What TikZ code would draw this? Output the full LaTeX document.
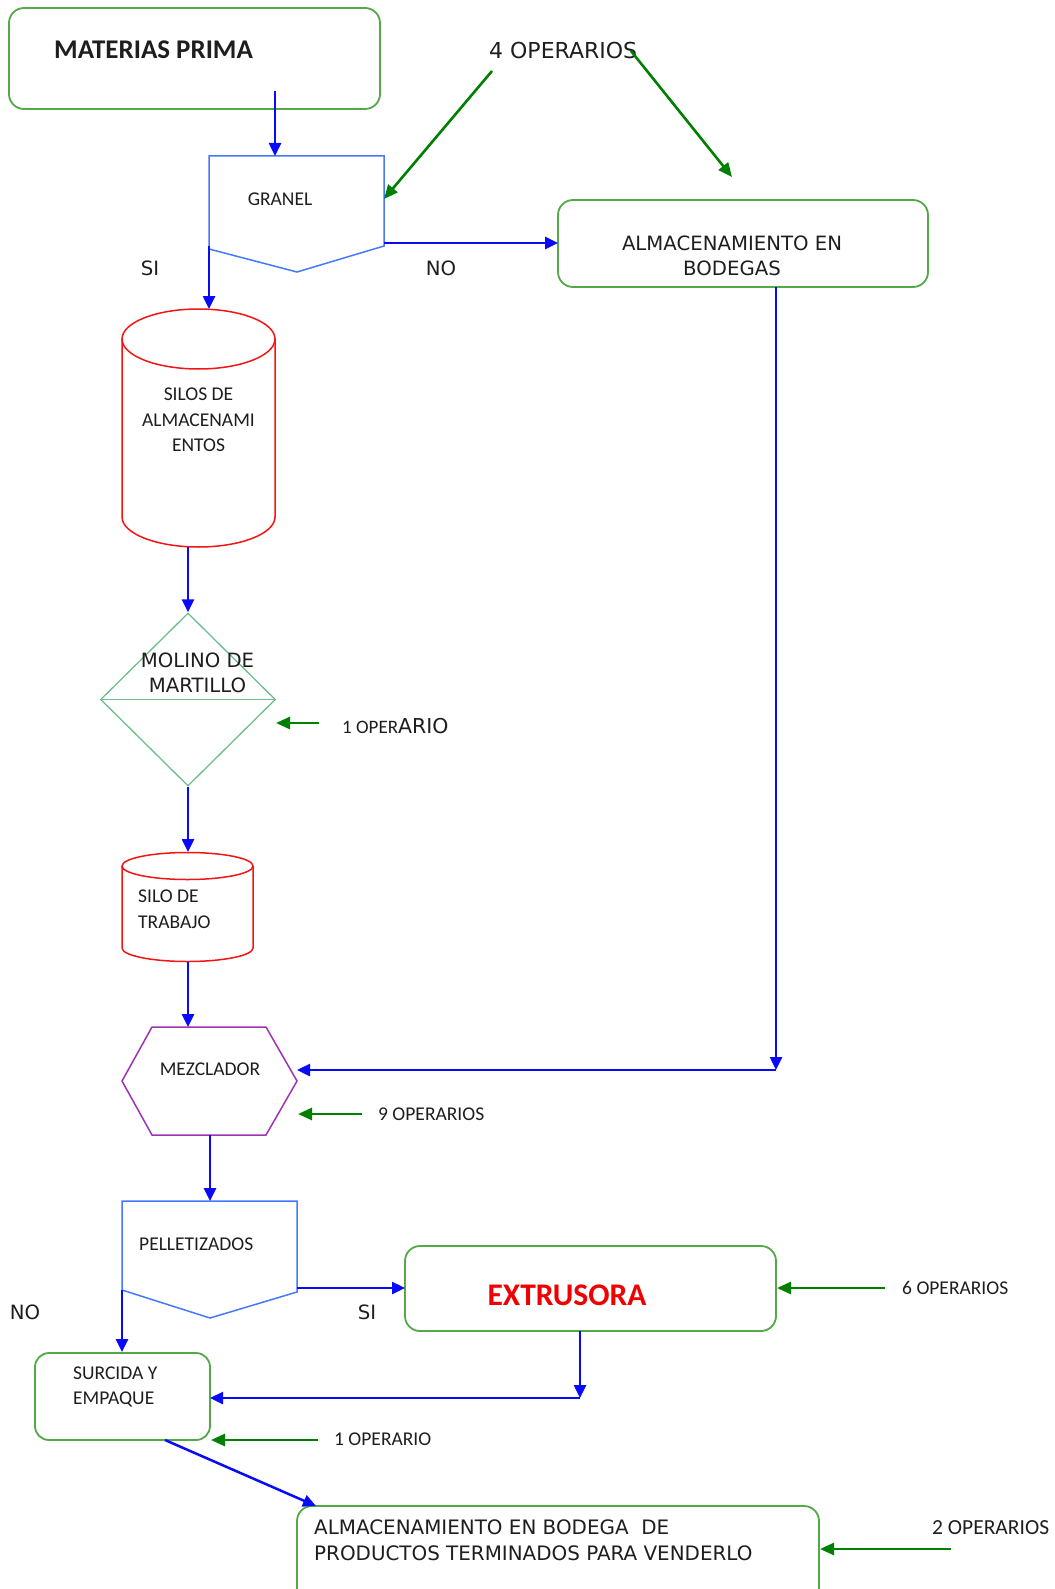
\documentclass[tikz,border=0pt]{standalone}
\usepackage{fontspec}
\setmainfont{Carlito}
\newfontfamily\verd{DejaVu Sans}
\usetikzlibrary{arrows.meta,shapes.geometric}
\definecolor{ablue}{RGB}{10,10,250}
\definecolor{agreen}{RGB}{0,128,0}
\definecolor{bgreen}{RGB}{84,168,72}
\definecolor{pblue}{RGB}{70,120,255}
\definecolor{cred}{RGB}{245,20,20}
\definecolor{dgreen}{RGB}{110,190,140}
\definecolor{hpurple}{RGB}{160,50,180}
\definecolor{txt}{RGB}{30,30,30}
\newcommand\fcal{\fontsize{19.5}{25.5}\selectfont}
\newcommand\fver{\verd\fontsize{19.7}{25}\selectfont}
\begin{document}
\begin{tikzpicture}[x=1pt,y=-1pt,
  blarrow/.style={draw=ablue,line width=2.5pt,-{Triangle[length=13pt,width=12pt]}},
  grarrow/.style={draw=agreen,line width=2.6pt,-{Triangle[length=14pt,width=12pt]}},
  rbox/.style={draw=bgreen,line width=1.8pt,rounded corners=15pt,inner sep=0pt},
  pent/.style={draw=pblue,line width=1.5pt},
  cyl/.style={draw=cred,line width=1.5pt},
  cal/.style={font=\fcal,text=txt,inner sep=0pt},
  ver/.style={font=\fver,text=txt,inner sep=0pt}]
\useasboundingbox (0,0) rectangle (1054,1589);
\fill[white] (0,0) rectangle (1054,1589);
\clip (0,0) rectangle (1054,1589);

% ---------- MATERIAS PRIMA ----------
\node[rbox,minimum width=371pt,minimum height=101pt] (mp) at (194.5,58.5) {};
\node[text=txt,inner sep=0pt,font=\fontsize{27}{30}\selectfont\bfseries,anchor=base west] (mpt) at (54,59) {MATERIAS PRIMA};
\coordinate (mp-out) at (275,91);

% ---------- 4 OPERARIOS ----------
\node[ver,font=\verd\fontsize{22}{25}\selectfont,anchor=base west] (op4) at (489,59) {4 OPERARIOS};
\coordinate (op4a) at (492,71);
\coordinate (op4b) at (631,51);

% ---------- GRANEL ----------
\draw[pent] (209,156) -- (384,156) -- (384,246) -- (297,272) -- (209,249) -- cycle;
\node[cal] (gr) at (280,199) {GRANEL};
\coordinate (gr-in) at (275,156);
\coordinate (gr-r) at (384,199);
\coordinate (gr-si) at (209,246);
\coordinate (gr-no) at (384,243);
\node[ver] (si1) at (150,268) {SI};
\node[ver] (no1) at (441,268) {NO};

% ---------- ALMACENAMIENTO EN BODEGAS ----------
\node[rbox,minimum width=370pt,minimum height=87pt] (alm) at (743,243.5) {};
\node[ver,align=center] (almt) at (732,256) {ALMACENAMIENTO EN\\BODEGAS};
\coordinate (alm-in) at (558,243);
\coordinate (alm-top) at (732,177);
\coordinate (alm-out) at (776,287);
\coordinate (corner1) at (776,1070);

% ---------- SILOS DE ALMACENAMIENTOS ----------
\draw[cyl] (122,339) -- (122,517) arc[start angle=180,end angle=0,x radius=76.5,y radius=30] -- (275,339);
\draw[cyl] (198.5,339) ellipse [x radius=76.5,y radius=30];
\node[cal,align=center] (silos) at (198.5,420) {SILOS DE\\ALMACENAMI\\ENTOS};
\coordinate (silos-in) at (209,309);
\coordinate (silos-out) at (188,547);

% ---------- MOLINO DE MARTILLO ----------
\node[diamond,draw=dgreen,line width=1.3pt,minimum width=175pt,minimum height=173pt,inner sep=0pt] (mol) at (188,699.5) {};
\draw[dgreen,line width=1.3pt] (mol.west) -- (mol.east);
\node[ver,align=center] (molt) at (197.5,673) {MOLINO DE\\MARTILLO};
\coordinate (mol-r) at (276,723);
\coordinate (op1a) at (319,723);
\node[text=txt,inner sep=0pt,anchor=base west] (op1t) at (342,733) {\fontsize{19}{22}\selectfont 1 OPER\verd\fontsize{20.5}{25}\selectfont ARIO};

% ---------- SILO DE TRABAJO ----------
\draw[cyl] (122,866) -- (122,948) arc[start angle=180,end angle=0,x radius=65.5,y radius=13.5] -- (253,866);
\draw[cyl] (187.5,866) ellipse [x radius=65.5,y radius=13.5];
\node[cal,align=left,anchor=west] (silot) at (138,909) {SILO DE\\TRABAJO};
\coordinate (silo2-in) at (188,852);
\coordinate (silo2-out) at (188,962);

% ---------- MEZCLADOR ----------
\draw[draw=hpurple,line width=1.5pt] (122,1081) -- (152,1027) -- (266,1027) -- (297,1081) -- (266,1135) -- (152,1135) -- cycle;
\node[cal] (mez) at (210,1069) {MEZCLADOR};
\coordinate (mez-in) at (188,1027);
\coordinate (mez-r) at (297,1070);
\coordinate (mez-r2) at (298,1114);
\coordinate (op9a) at (362,1114);
\node[cal,anchor=west] (op9t) at (378,1114) {9 OPERARIOS};
\coordinate (mez-out) at (210,1135);

% ---------- PELLETIZADOS ----------
\draw[pent] (122,1201) -- (297,1201) -- (297,1292) -- (210,1318) -- (122,1290) -- cycle;
\node[cal,anchor=west] (pel) at (139,1244) {PELLETIZADOS};
\coordinate (pel-in) at (210,1201);
\coordinate (pel-si) at (297,1288);
\coordinate (pel-no) at (122,1290);
\node[ver] (si2) at (367,1312) {SI};
\node[ver] (no2) at (25,1312) {NO};

% ---------- EXTRUSORA ----------
\node[rbox,minimum width=371pt,minimum height=85pt] (ext) at (590.5,1288.5) {};
\node[inner sep=0pt,text={rgb,255:red,240;green,0;blue,0},font=\fontsize{31.5}{34}\selectfont\bfseries] (extt) at (567,1295) {EXTRUSORA};
\coordinate (ext-in) at (405,1288);
\coordinate (ext-r) at (777,1288);
\coordinate (op6a) at (885,1288);
\node[cal,anchor=west] (op6t) at (902,1288) {6 OPERARIOS};
\coordinate (ext-out) at (580,1331);
\coordinate (corner2) at (580,1398);

% ---------- SURCIDA Y EMPAQUE ----------
\node[rbox,minimum width=175pt,minimum height=87pt,rounded corners=14pt] (sur) at (122.5,1396.5) {};
\node[cal,align=left,anchor=west] (surt) at (73,1387) {SURCIDA Y\\EMPAQUE};
\coordinate (sur-in) at (122,1352);
\coordinate (sur-r) at (210,1398);
\coordinate (sur-r2) at (211,1440);
\coordinate (op1ba) at (318,1440);
\node[cal,anchor=west] (op1bt) at (334,1439) {1 OPERARIO};
\coordinate (sur-out) at (165,1440);

% ---------- ALMACENAMIENTO FINAL ----------
\draw[draw=bgreen,line width=1.8pt,rounded corners=15pt] (297,1602) -- (297,1506) -- (819,1506) -- (819,1602);
\node[ver,font=\verd\fontsize{19.9}{25.5}\selectfont,align=left,anchor=west] (fint) at (314,1540) {ALMACENAMIENTO EN BODEGA\ \ DE\\PRODUCTOS TERMINADOS PARA VENDERLO};
\coordinate (fin-in) at (316,1506);
\coordinate (fin-r) at (820,1549);
\coordinate (op2a) at (951,1549);
\node[cal,font=\fontsize{21.5}{25}\selectfont,anchor=west] (op2t) at (932,1528) {2 OPERARIOS};

% ---------- connectors ----------
\draw[blarrow] (mp-out) -- (gr-in);
\draw[grarrow] (op4a) -- (gr-r);
\draw[grarrow] (op4b) -- (alm-top);
\draw[blarrow] (gr-si) -- (silos-in);
\draw[blarrow] (gr-no) -- (alm-in);
\draw[blarrow] (alm-out) -- (corner1);
\draw[blarrow] (corner1) -- (mez-r);
\draw[blarrow] (silos-out) -- (mol.north);
\draw[grarrow] (op1a) -- (mol-r);
\draw[blarrow] (mol.south) -- (silo2-in);
\draw[blarrow] (silo2-out) -- (mez-in);
\draw[grarrow] (op9a) -- (mez-r2);
\draw[blarrow] (mez-out) -- (pel-in);
\draw[blarrow] (pel-si) -- (ext-in);
\draw[blarrow] (pel-no) -- (sur-in);
\draw[grarrow] (op6a) -- (ext-r);
\draw[blarrow] (ext-out) -- (corner2);
\draw[blarrow] (corner2) -- (sur-r);
\draw[grarrow] (op1ba) -- (sur-r2);
\draw[blarrow] (sur-out) -- (fin-in);
\draw[grarrow] (op2a) -- (fin-r);
\end{tikzpicture}
\end{document}
